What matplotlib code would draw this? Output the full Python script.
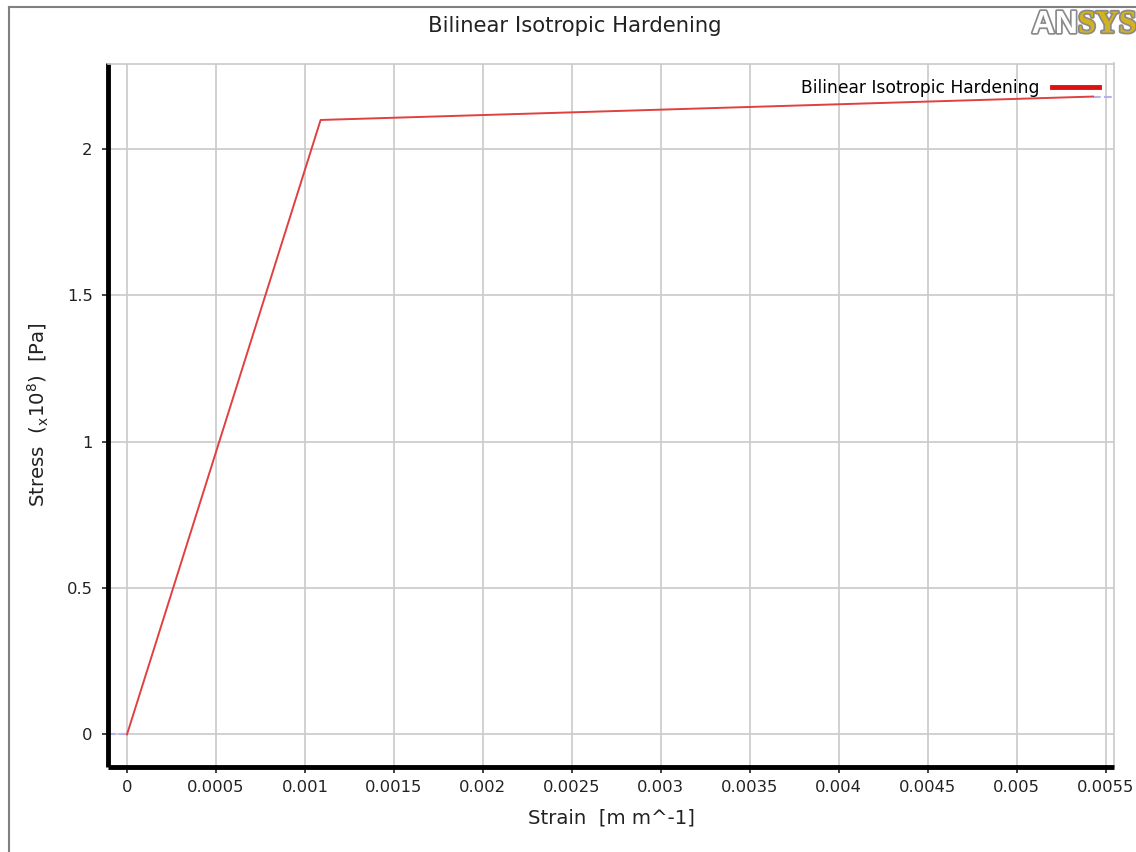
import matplotlib
matplotlib.use("Agg")
import matplotlib.pyplot as plt
import matplotlib.patheffects as pe
from matplotlib.lines import Line2D
from matplotlib.ticker import FuncFormatter, MultipleLocator

# bilinear curve
strain = [0.0, 0.001088, 0.005429]
stress_pa = [0.0, 2.1e8, 2.18e8]
series_name = "Bilinear Isotropic Hardening"

stress = [s / 1e8 for s in stress_pa]

W, H = 1136, 852
fig = plt.figure(figsize=(W / 100, H / 100), dpi=100)

# outer frame (top and left edge only)
fig.add_artist(Line2D([9 / W, 1], [1 - 7 / H, 1 - 7 / H], color="#808080", lw=1.5))
fig.add_artist(Line2D([9 / W, 9 / W], [0, 1 - 7 / H], color="#808080", lw=1.5))

ax = fig.add_axes([108 / W, 1 - 766.5 / H, (1114 - 108) / W, (766.5 - 63.5) / H])

xmin, xmax = -0.000107, 0.005547
ax.set_xlim(xmin, xmax)
ax.set_ylim(-0.110, 2.293)

ax.plot(strain, stress, color="#e04040", lw=1.4, zorder=3)
# light extension lines past the end points
ax.plot([xmin, strain[0]], [stress[0], stress[0]], color="#b4b4ec", lw=1.5, ls="--", zorder=2)
ax.plot([strain[-1], xmax], [stress[-1], stress[-1]], color="#b4b4ec", lw=1.5, ls="--", zorder=2)

ax.xaxis.set_major_locator(MultipleLocator(0.0005))
ax.yaxis.set_major_locator(MultipleLocator(0.5))
fmt = FuncFormatter(lambda v, p: "%g" % round(v, 6))
ax.xaxis.set_major_formatter(fmt)
ax.yaxis.set_major_formatter(fmt)

ax.grid(True, color="#cacaca", lw=1.2)
ax.set_axisbelow(True)
for side in ("left", "bottom"):
    ax.spines[side].set_linewidth(3.5)
    ax.spines[side].set_color("black")
    ax.spines[side].set_capstyle("butt")
for side in ("top", "right"):
    ax.spines[side].set_linewidth(1.2)
    ax.spines[side].set_color("#cacaca")
ax.tick_params(direction="out", length=4, width=1.2, labelsize=11.8, colors="#222222")
ax.tick_params(axis="y", pad=7)
ax.tick_params(axis="x", pad=6)

ax.set_xlabel("Strain  [m m^-1]", fontsize=14.2, color="#222222")
ax.xaxis.set_label_coords(0.5, -0.0733)
ax.xaxis.label.set_va("center")
ax.set_ylabel(r"Stress  ($\mathregular{_x10^8}$)  [Pa]", fontsize=14.2, color="#222222")
ax.yaxis.set_label_coords(-0.0696, 0.5)
ax.yaxis.label.set_va("center")

handle = Line2D([], [], color="#dd1111", lw=3.5)
ax.legend([handle], [series_name], loc="center right",
          bbox_to_anchor=(1099 / W, 1 - 88 / H), bbox_transform=fig.transFigure,
          frameon=False, markerfirst=False, fontsize=12.3, borderpad=0,
          borderaxespad=0, handlelength=2.75, handletextpad=0.75)

fig.text(575 / W, 1 - 26 / H, series_name, ha="center", va="center", fontsize=15.2, color="#222222")

# logo
outline = [pe.withStroke(linewidth=2.5, foreground="#8a8a8a")]
fig.text(1078 / W, 1 - 25 / H, "AN", ha="right", va="center", fontsize=23,
         family="Liberation Sans", weight="bold", color="white", path_effects=outline)
fig.text(1078 / W, 1 - 25 / H, "SYS", ha="left", va="center", fontsize=23,
         family="Liberation Serif", weight="bold", color="#d4b21e", path_effects=outline)

fig.savefig("out.png", dpi=100)
